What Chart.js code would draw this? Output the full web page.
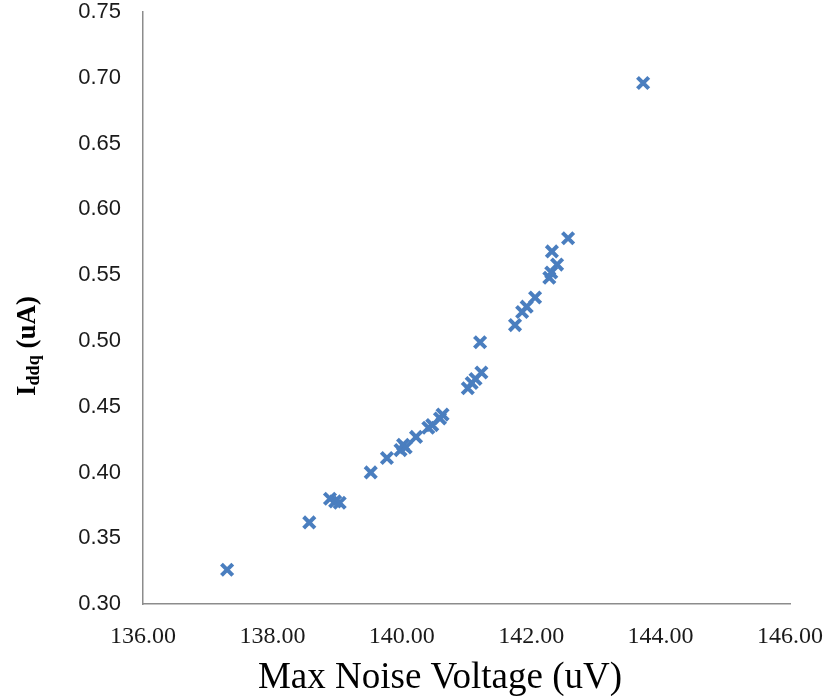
<!DOCTYPE html>
<html>
<head>
<meta charset="utf-8">
<script src="https://cdn.jsdelivr.net/npm/chart.js@4/dist/chart.umd.min.js"></script>
<style>
  html, body { margin: 0; padding: 0; background: #fff; }
  #wrap { width: 831px; height: 696px; position: relative; }
</style>
</head>
<body>
<div id="wrap"><canvas id="noiseChart"></canvas></div>
<script>
// Max noise voltage (uV) vs Iddq (uA)
const noiseVoltage = [137.30, 138.57, 138.89, 138.97, 139.04, 139.52, 139.77, 139.98, 140.02, 140.06,
    140.22, 140.41, 140.47, 140.59, 140.63, 141.02, 141.08, 141.14, 141.23, 141.21,
    141.75, 141.86, 141.93, 142.06, 142.28, 142.31, 142.40, 142.32, 142.57, 143.73];
const iddq = [0.326, 0.362, 0.380, 0.378, 0.377, 0.400, 0.411, 0.417, 0.421, 0.419,
    0.427, 0.434, 0.436, 0.441, 0.444, 0.464, 0.468, 0.471, 0.476, 0.499,
    0.512, 0.522, 0.526, 0.533, 0.548, 0.552, 0.558, 0.568, 0.578, 0.696];

const xTicks = [136, 138, 140, 142, 144, 146];
const yTicks = [0.30, 0.35, 0.40, 0.45, 0.50, 0.55, 0.60, 0.65, 0.70, 0.75];

const xTitle = 'Max Noise Voltage (uV)';
const yTitleMain = 'I';
const yTitleSub = 'ddq';
const yTitleRest = ' (uA)';

const points = noiseVoltage.map((v, i) => ({ x: v, y: iddq[i] }));

// axis titles drawn by hand so the subscript on Iddq works
const axisTitles = {
    id: 'axisTitles',
    afterDraw(chart) {
        const ctx = chart.ctx;
        ctx.save();
        ctx.fillStyle = '#000';
        ctx.textBaseline = 'alphabetic';

        // x title
        ctx.font = '37px "Liberation Serif"';
        ctx.textAlign = 'center';
        ctx.fillText(xTitle, 440, 688);

        // y title, rotated
        const big = 'bold 27px "Liberation Serif"';
        const small = 'bold 18px "Liberation Serif"';
        ctx.font = big;
        const w1 = ctx.measureText(yTitleMain).width;
        const w3 = ctx.measureText(yTitleRest).width;
        ctx.font = small;
        const w2 = ctx.measureText(yTitleSub).width;
        const total = w1 + w2 + w3;

        ctx.translate(35, 346);
        ctx.rotate(-Math.PI / 2);
        ctx.textAlign = 'left';
        let x = -total / 2;
        ctx.font = big;
        ctx.fillText(yTitleMain, x, 0);
        x += w1;
        ctx.font = small;
        ctx.fillText(yTitleSub, x, 4);
        x += w2;
        ctx.font = big;
        ctx.fillText(yTitleRest, x, 0);
        ctx.restore();
    }
};

const cfg = {
    type: 'scatter',
    data: {
        datasets: [{
            label: 'Iddq',
            data: points,
            pointStyle: 'crossRot',
            pointRadius: 8,
            pointHoverRadius: 8,
            borderWidth: 4,
            borderColor: '#4a7ebf',
            backgroundColor: '#4a7ebf'
        }]
    },
    options: {
        responsive: true,
        maintainAspectRatio: false,
        animation: false,
        layout: { padding: { top: 12, right: 41, left: 0, bottom: 0 } },
        plugins: {
            legend: { display: false },
            tooltip: { enabled: false }
        },
        scales: {
            x: {
                type: 'linear',
                min: xTicks[0],
                max: xTicks[xTicks.length - 1],
                afterBuildTicks: (scale) => { scale.ticks = xTicks.map(v => ({ value: v })); },
                afterFit: (scale) => {
                    scale.height = 92;
                    scale.paddingLeft = 0;
                    scale.paddingRight = 0;
                },
                grid: { display: false, drawTicks: false },
                border: { display: true, color: '#8c8c8c', width: 1.5 },
                ticks: {
                    padding: 18,
                    color: '#1a1a1a',
                    font: { family: '"Liberation Serif"', size: 24 },
                    callback: (v) => Number(v).toFixed(2)
                }
            },
            y: {
                type: 'linear',
                min: yTicks[0],
                max: yTicks[yTicks.length - 1],
                afterBuildTicks: (scale) => { scale.ticks = yTicks.map(v => ({ value: v })); },
                afterFit: (scale) => {
                    scale.width = 143;
                    scale.paddingTop = 0;
                    scale.paddingBottom = 0;
                },
                grid: { display: false, drawTicks: false },
                border: { display: true, color: '#8c8c8c', width: 1.5 },
                ticks: {
                    padding: 22,
                    color: '#1a1a1a',
                    font: { family: '"Liberation Sans"', size: 22, lineHeight: 1 },
                    callback: (v) => Number(v).toFixed(2)
                }
            }
        }
    },
    plugins: [axisTitles]
};

new Chart(document.getElementById('noiseChart'), cfg);
</script>
</body>
</html>
